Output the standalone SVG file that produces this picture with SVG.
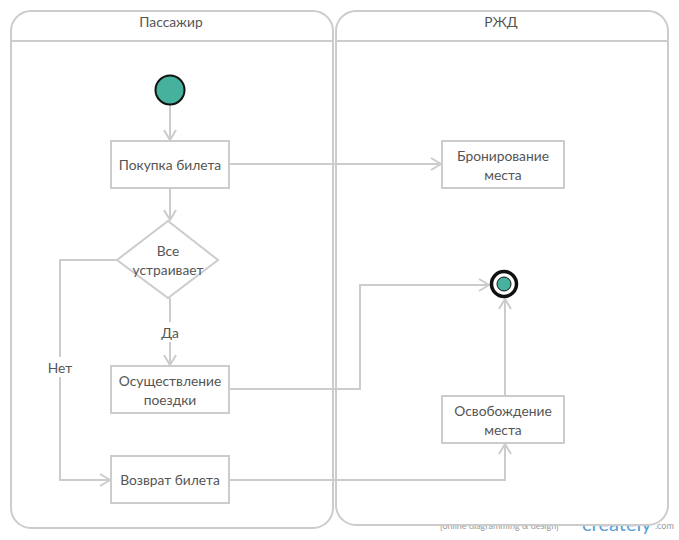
<svg xmlns="http://www.w3.org/2000/svg" width="679" height="540" viewBox="0 0 679 540">
<defs>
<style>
.lane{fill:#fff;stroke:#cccccc;stroke-width:2}
.box{fill:#fff;stroke:#cccccc;stroke-width:2}
.t{font-family:Lato,"Liberation Sans",sans-serif;font-size:13.8px;fill:#555;text-anchor:middle}
.c{fill:none;stroke:#cccccc;stroke-width:2}
</style>
<marker id="a" viewBox="0 0 12 14" refX="11" refY="7" markerWidth="12" markerHeight="14" markerUnits="userSpaceOnUse" orient="auto">
<path d="M1,1 L11,7 L1,13" fill="none" stroke="#cccccc" stroke-width="2"/>
</marker>
</defs>
<rect width="679" height="540" fill="#fff"/>
<g id="watermark" font-family="Lato,'Liberation Sans',sans-serif">
<text x="440" y="529" font-size="9" fill="#999">[online diagramming &amp; design]</text>
<text x="582" y="531" font-size="20" fill="#5a9fd6">creately</text>
<text x="655" y="529" font-size="9" fill="#999">.com</text>
</g>
<g id="lane-passenger">
<rect class="lane" x="11" y="11" width="322" height="517" rx="20"/>
<line x1="11" y1="41" x2="333" y2="41" stroke="#cccccc" stroke-width="2"/>
<text class="t" x="171" y="27">Пассажир</text>
</g>
<g id="lane-rzd">
<rect class="lane" x="336" y="11" width="332" height="514" rx="20"/>
<line x1="336" y1="41" x2="668" y2="41" stroke="#cccccc" stroke-width="2"/>
<text class="t" x="501" y="27">РЖД</text>
</g>
<g id="connectors">
<line class="c" x1="170" y1="105" x2="170" y2="140" marker-end="url(#a)"/>
<line class="c" x1="170" y1="188" x2="170" y2="220" marker-end="url(#a)"/>
<line class="c" x1="170" y1="298" x2="170" y2="322"/>
<line class="c" x1="170" y1="342" x2="170" y2="365" marker-end="url(#a)"/>
<text class="t" x="170" y="338">Да</text>
<polyline class="c" points="117,260 60,260 60,357"/>
<polyline class="c" points="60,377 60,480 110,480" marker-end="url(#a)"/>
<text class="t" x="60" y="373">Нет</text>
<line class="c" x1="229" y1="164" x2="441" y2="164" marker-end="url(#a)"/>
<polyline class="c" points="229,389 360,389 360,285 489,285" marker-end="url(#a)"/>
<line class="c" x1="505" y1="395" x2="505" y2="299" marker-end="url(#a)"/>
<polyline class="c" points="229,480 505,480 505,444" marker-end="url(#a)"/>
</g>
<g id="start">
<circle cx="170" cy="90" r="14.5" fill="#46b29d" stroke="#111" stroke-width="2"/>
</g>
<g id="buy">
<rect class="box" x="111" y="141" width="118" height="47"/>
<text class="t" x="170" y="170">Покупка билета</text>
</g>
<g id="decision">
<polygon class="box" points="168,221 218,260 168,298 117,260"/>
<text class="t" x="168" y="256">Все</text>
<text class="t" x="168" y="275">устраивает</text>
</g>
<g id="trip">
<rect class="box" x="111" y="366" width="118" height="47"/>
<text class="t" x="170" y="386">Осуществление</text>
<text class="t" x="170" y="405">поездки</text>
</g>
<g id="return">
<rect class="box" x="111" y="456" width="118" height="47"/>
<text class="t" x="170" y="485">Возврат билета</text>
</g>
<g id="reserve">
<rect class="box" x="442" y="141" width="122" height="47"/>
<text class="t" x="503" y="161">Бронирование</text>
<text class="t" x="503" y="180">места</text>
</g>
<g id="release">
<rect class="box" x="442" y="396" width="122" height="47"/>
<text class="t" x="503" y="416">Освобождение</text>
<text class="t" x="503" y="435">места</text>
</g>
<g id="end">
<circle cx="504" cy="284" r="12.5" fill="#fff" stroke="#111" stroke-width="3.5"/>
<circle cx="504" cy="284" r="7" fill="#46b29d" stroke="#111" stroke-width="1"/>
</g>
</svg>
